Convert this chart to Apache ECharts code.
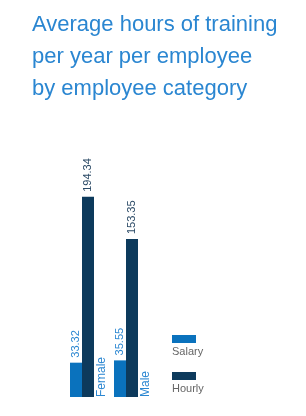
<!DOCTYPE html>
<html><head><meta charset="utf-8">
<script src="https://cdn.jsdelivr.net/npm/echarts@6/dist/echarts.min.js"></script>
<style>html,body{margin:0;padding:0;background:#fff}#c{width:306px;height:416px}</style>
</head><body><div id="c"></div>
<script>
const titleText = 'Average hours of training\nper year per employee\nby employee category';
const categories = ['Female', 'Male'];
const salary = [33.32, 35.55];
const hourly = [194.34, 153.35];
const seriesNames = ['Salary', 'Hourly'];

const chart = echarts.init(document.getElementById('c'), null, {renderer: 'canvas'});
const valLabel = (color) => ({
  show: true, position: 'top', rotate: 90, align: 'left', verticalAlign: 'middle',
  distance: 5, color: color, fontSize: 11, fontFamily: 'Liberation Sans',
  formatter: (p) => p.value.toFixed(2)
});
const legendTextStyle = {color: '#666', fontSize: 11, fontWeight: 'normal', fontFamily: 'Liberation Sans'};
chart.setOption({
  animation: false,
  title: [
    {text: titleText, left: 27, top: 4,
     textStyle: {color: '#2a86d1', fontSize: 22, fontWeight: 'normal', fontFamily: 'Liberation Sans', lineHeight: 32}},
    {text: seriesNames[0], left: 172, top: 346, padding: 0, textStyle: legendTextStyle},
    {text: seriesNames[1], left: 172, top: 383, padding: 0, textStyle: legendTextStyle}
  ],
  legend: {
    data: seriesNames, orient: 'vertical', left: 167, top: 330,
    itemWidth: 24, itemHeight: 8, itemGap: 29, icon: 'rect',
    formatter: () => '', textStyle: {fontSize: 1}
  },
  grid: {left: 60, top: 191, width: 88, bottom: 19},
  xAxis: {
    type: 'category', data: categories,
    axisLine: {show: false}, axisTick: {show: false},
    axisLabel: {rotate: 90, align: 'left', verticalAlign: 'top', margin: 0, padding: [14, 0, 0, 0],
      color: '#2a86d1', fontSize: 12, fontFamily: 'Liberation Sans'}
  },
  yAxis: {type: 'value', min: 0, max: 200, show: false, splitLine: {show: false}},
  series: [
    {name: seriesNames[0], type: 'bar', data: salary, barWidth: 12, barGap: '0%', itemStyle: {color: '#0a72bd'}, label: valLabel('#2a86d1')},
    {name: seriesNames[1], type: 'bar', data: hourly, barWidth: 12, barGap: '0%', itemStyle: {color: '#0d3a5c'}, label: valLabel('#2b4a66')}
  ]
});
</script></body></html>
